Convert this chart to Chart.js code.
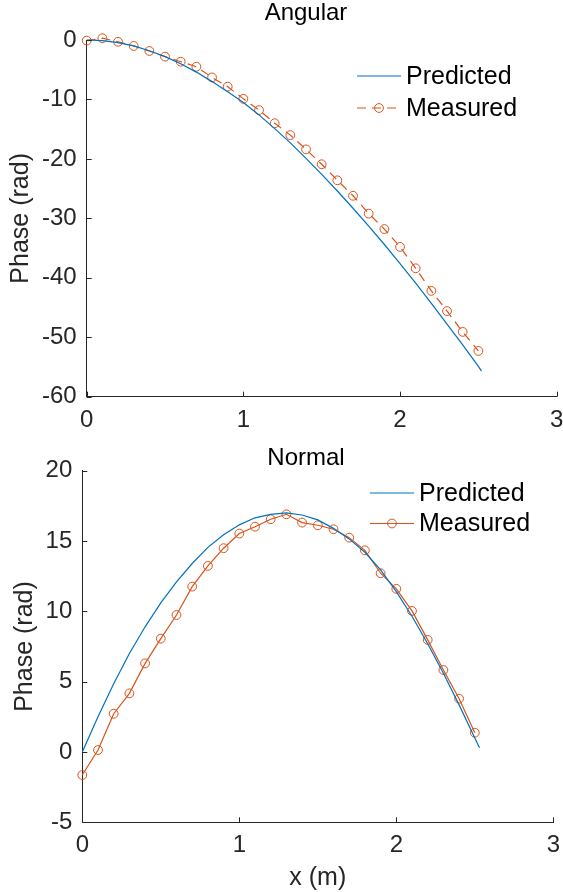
<!DOCTYPE html>
<html>
<head>
<meta charset="utf-8">
<script src="https://cdn.jsdelivr.net/npm/chart.js@4.4.0/dist/chart.umd.min.js"></script>
<style>
  body { margin: 0; background: #fff; }
  canvas { position: absolute; left: 0; }
</style>
</head>
<body>
<canvas id="angular" width="563" height="446" style="top:0px"></canvas>
<canvas id="normal" width="563" height="446" style="top:446px"></canvas>
<script>
// x positions of the measured points (m)
const xMeasured = [0, 0.1, 0.2, 0.3, 0.4, 0.5, 0.6, 0.7, 0.8, 0.9, 1.0, 1.1, 1.2,
  1.3, 1.4, 1.5, 1.6, 1.7, 1.8, 1.9, 2.0, 2.1, 2.2, 2.3, 2.4, 2.5]

// Angular
const xPredAngular = [0, 0.1, 0.2, 0.3, 0.4, 0.5, 0.6, 0.7, 0.8, 0.9, 1.0, 1.1, 1.2,
  1.3, 1.4, 1.5, 1.6, 1.7, 1.8, 1.9, 2.0, 2.1, 2.2, 2.3, 2.4, 2.5, 2.52]
const predAngular = [0, -0.1, -0.45, -1.0, -1.8, -2.8, -4.0, -5.4, -7.0, -8.7, -10.5, -12.6, -14.9,
  -17.3, -19.9, -22.6, -25.4, -28.3, -31.3, -34.4, -37.6, -40.9, -44.3, -47.8, -51.3, -54.9, -55.7]
const measAngular = [-0.1, 0.3, -0.3, -1.0, -1.85, -2.8, -3.65, -4.5, -6.3, -7.85, -9.9, -11.8, -14.0,
  -16.0, -18.4, -20.9, -23.6, -26.2, -29.2, -31.8, -34.8, -38.4, -42.2, -45.6, -49.1, -52.3]

// Normal
const xPredNormal = [0, 0.1, 0.2, 0.3, 0.4, 0.5, 0.6, 0.7, 0.8, 0.9, 1.0, 1.1, 1.2,
  1.3, 1.4, 1.5, 1.6, 1.7, 1.8, 1.9, 2.0, 2.1, 2.2, 2.3, 2.4, 2.5, 2.53]
const predNormal = [0, 2.5, 4.85, 7.0, 8.9, 10.6, 12.1, 13.4, 14.55, 15.45, 16.15, 16.65, 16.9,
  17.0, 16.85, 16.5, 15.9, 15.15, 14.2, 12.95, 11.4, 9.65, 7.7, 5.6, 3.35, 1.0, 0.3]
const measNormal = [-1.64, 0.14, 2.72, 4.17, 6.3, 8.06, 9.74, 11.76, 13.23, 14.49, 15.53, 16.02, 16.55,
  16.9, 16.31, 16.12, 15.84, 15.24, 14.34, 12.71, 11.6, 10.03, 7.97, 5.83, 3.79, 1.37]

const blue = '#0072BD'
const orange = '#D95319'
const axisColor = '#262626'
const fontFamily = '"Liberation Sans", Arial, Helvetica, sans-serif'

function pares(xs, ys) {
  return xs.map((x, i) => ({ x: x, y: ys[i] }))
}

// inward ticks, title and legend, drawn like the matlab figure
const decor = {
  id: 'decor',
  afterDraw(chart, args, o) {
    const ctx = chart.ctx
    const a = chart.chartArea
    const sx = chart.scales.x
    const sy = chart.scales.y
    ctx.save()
    ctx.strokeStyle = axisColor
    ctx.lineWidth = 1
    ctx.beginPath()
    sx.ticks.forEach(t => {
      const p = Math.round(sx.getPixelForValue(t.value)) + 0.5
      ctx.moveTo(p, a.bottom)
      ctx.lineTo(p, a.bottom - 5)
    })
    sy.ticks.forEach(t => {
      const p = Math.round(sy.getPixelForValue(t.value)) + 0.5
      ctx.moveTo(a.left, p)
      ctx.lineTo(a.left + 5, p)
    })
    ctx.stroke()

    ctx.fillStyle = '#000'
    ctx.font = '24px ' + fontFamily
    ctx.textAlign = 'center'
    ctx.textBaseline = 'middle'
    ctx.fillText(o.title, o.titleX, o.titleY)

    chart.data.datasets.forEach((ds, i) => {
      const y = o.legendY + i * o.legendGap
      ctx.strokeStyle = ds.borderColor
      ctx.lineWidth = ds.borderWidth
      ctx.setLineDash(ds.borderDash || [])
      ctx.beginPath()
      ctx.moveTo(o.legendX, y)
      ctx.lineTo(o.legendX + 44, y)
      ctx.stroke()
      ctx.setLineDash([])
      if (ds.pointRadius > 0) {
        ctx.lineWidth = 1
        ctx.beginPath()
        ctx.arc(o.legendX + 22, y, ds.pointRadius, 0, 2 * Math.PI)
        ctx.stroke()
      }
      ctx.fillStyle = '#000'
      ctx.textAlign = 'left'
      ctx.font = '25px ' + fontFamily
      ctx.fillText(ds.label, o.legendX + 49, y + 1)
    })
    ctx.restore()
  }
}

function makeChart(id, predData, measData, c) {
  const ctx = document.getElementById(id)
  return new Chart(ctx, {
    type: 'line',
    data: {
      datasets: [{
        label: 'Predicted',
        data: predData,
        borderColor: blue,
        borderWidth: 1.2,
        pointRadius: 0,
        tension: 0,
        clip: false
      }, {
        label: 'Measured',
        data: measData,
        borderColor: orange,
        borderWidth: 1.2,
        borderDash: c.dash,
        pointRadius: 4.4,
        pointBorderWidth: 1,
        pointBorderColor: orange,
        pointBackgroundColor: 'rgba(0,0,0,0)',
        tension: 0,
        clip: false
      }]
    },
    options: {
      responsive: false,
      devicePixelRatio: 1,
      animation: false,
      layout: {
        autoPadding: false,
        padding: { left: 0, top: c.top, right: c.right, bottom: 0 }
      },
      plugins: {
        legend: { display: false },
        tooltip: { enabled: false },
        decor: c.decor
      },
      scales: {
        x: {
          type: 'linear',
          min: 0,
          max: 3,
          afterFit: s => { s.height = c.xHeight; s.paddingLeft = 0; s.paddingRight = 0 },
          ticks: { stepSize: 1, padding: 9, color: axisColor, font: { size: 24, family: fontFamily } },
          grid: { drawOnChartArea: false, drawTicks: false },
          border: { color: axisColor, width: 1 },
          title: {
            display: !!c.xTitle,
            text: c.xTitle || '',
            color: axisColor,
            padding: { top: 0, bottom: -1.5 },
            font: { size: 25, family: fontFamily }
          }
        },
        y: {
          type: 'linear',
          min: c.yMin,
          max: c.yMax,
          afterFit: s => { s.width = c.yWidth; s.paddingTop = 0; s.paddingBottom = 0 },
          ticks: { stepSize: c.yStep, padding: 10, color: axisColor, font: { size: 24, family: fontFamily } },
          grid: { drawOnChartArea: false, drawTicks: false },
          border: { color: axisColor, width: 1 },
          title: {
            display: true,
            text: 'Phase (rad)',
            color: axisColor,
            padding: { top: c.yTitlePad, bottom: 0 },
            font: { size: 25, family: fontFamily }
          }
        }
      }
    },
    plugins: [decor]
  })
}

makeChart('angular', pares(xPredAngular, predAngular), pares(xMeasured, measAngular), {
  dash: [9, 6],
  top: 40,
  right: 6.3,
  xHeight: 49.3,
  yWidth: 86.7,
  yMin: -60,
  yMax: 0,
  yStep: 10,
  yTitlePad: 6.5,
  decor: { title: 'Angular', titleX: 306, titleY: 13, legendX: 357, legendY: 76, legendGap: 32 }
})

makeChart('normal', pares(xPredNormal, predNormal), pares(xMeasured, measNormal), {
  dash: [],
  top: 24.7,
  right: 9.7,
  xHeight: 69.7,
  yWidth: 82.3,
  yMin: -5,
  yMax: 20,
  yStep: 5,
  yTitlePad: 10,
  xTitle: 'x (m)',
  decor: { title: 'Normal', titleX: 306, titleY: 12, legendX: 370, legendY: 47, legendGap: 30.5 }
})
</script>
</body>
</html>
